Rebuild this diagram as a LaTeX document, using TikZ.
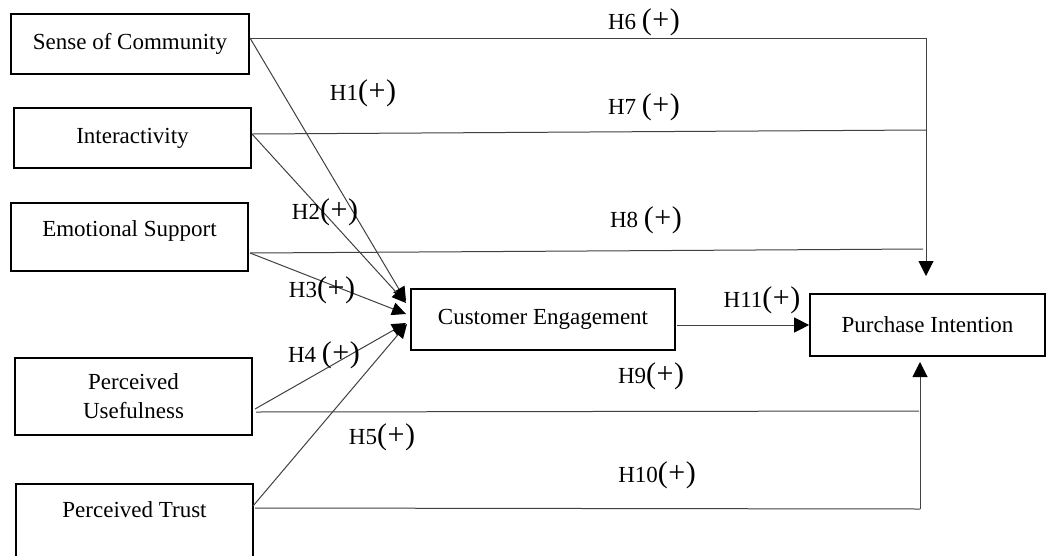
\documentclass[tikz,border=0pt]{standalone}
\usepackage{fontspec}
\setmainfont{Liberation Serif}
\usetikzlibrary{arrows.meta}
\begin{document}
\begin{tikzpicture}[x=1pt,y=-1pt,
  box/.style={draw=black, line width=1.7pt, inner sep=0pt, align=center,
    font=\fontsize{23}{29}\selectfont},
  conn/.style={draw=black!75, line width=1pt},
  arr/.style={conn, -{Triangle[length=14pt,width=13pt,fill=black,color=black]}},
  bigarr/.style={conn, -{Triangle[length=15pt,width=15pt,fill=black,color=black]}},
  lab/.style={inner sep=0pt, font=\fontsize{23}{26}\selectfont}]
\path[use as bounding box] (0,0) rectangle (1047,555);
\clip (0,0) rectangle (1047,555);
\newcommand{\plusp}{{\fontsize{30}{32}\selectfont(\kern0.5pt+\kern0.5pt)}}
% boxes
\node[box, minimum width=238pt, minimum height=60pt] (soc) at (130,44) {Sense of Community};
\node[box, minimum width=237pt, minimum height=60pt] (int) at (132.5,138) {Interactivity};
\node[box, minimum width=237pt, minimum height=68pt, text depth=16pt] (es) at (129.5,237) {Emotional Support};
\node[box, minimum width=237pt, minimum height=77pt] (pu) at (133.5,396.5) {Perceived\\Usefulness};
\node[box, minimum width=237pt, minimum height=81pt, text depth=29pt] (pt) at (134.5,524.5) {Perceived Trust};
\node[box, minimum width=264pt, minimum height=61pt] (ce) at (543,319.5) {Customer Engagement};
\node[box, minimum width=235pt, minimum height=62pt] (pi) at (927.5,325) {Purchase Intention};
% connector points
\coordinate (soc1) at (250,38);
\coordinate (int1) at (252,134);
\coordinate (es1) at (250,253);
\coordinate (pu1) at (255,409);
\coordinate (pu2) at (256,412);
\coordinate (pt1) at (253,506);
\coordinate (pt2) at (255,508);
\coordinate (tr) at (926,38);
\coordinate (j7) at (926,130);
\coordinate (j8) at (923,249);
\coordinate (dtip) at (926,276);
\coordinate (br) at (920,509);
\coordinate (j9) at (919,411);
\coordinate (utip) at (920,362);
\coordinate (c1) at (406,301);
\coordinate (c2) at (406,303);
\coordinate (c3) at (406,314);
\coordinate (c4) at (406,323);
\coordinate (c5) at (407,324);
\coordinate (ceo) at (677,325);
% connectors
\draw[conn] (soc1) -- (tr);
\draw[bigarr] (tr) -- (dtip);
\draw[conn] (int1) -- (j7);
\draw[conn] (es1) -- (j8);
\draw[arr] (soc1) -- (c1);
\draw[arr] (int1) -- (c2);
\draw[arr] (es1) -- (c3);
\draw[arr] (pu1) -- (c4);
\draw[arr] (pt1) -- (c5);
\draw[conn] (pu2) -- (j9);
\draw[conn] (pt2) -- (br);
\draw[bigarr] (br) -- (utip);
\draw[bigarr] (ceo) -- (pi.west |- ceo);
% labels
\node[lab] (l6) at (644,22) {H6 \plusp};
\node[lab] (l1) at (363,93) {H1\plusp};
\node[lab] (l7) at (644,107) {H7 \plusp};
\node[lab] (l2) at (325,212) {H2\plusp};
\node[lab] (l8) at (646,220) {H8 \plusp};
\node[lab] (l3) at (322,290) {H3\plusp};
\node[lab] (l4) at (324,355) {H4 \plusp};
\node[lab] (l5) at (382,437) {H5\plusp};
\node[lab] (l9) at (651,376) {H9\plusp};
\node[lab] (l10) at (657,475) {H10\plusp};
\node[lab] (l11) at (762,300) {H11\plusp};
\end{tikzpicture}
\end{document}
